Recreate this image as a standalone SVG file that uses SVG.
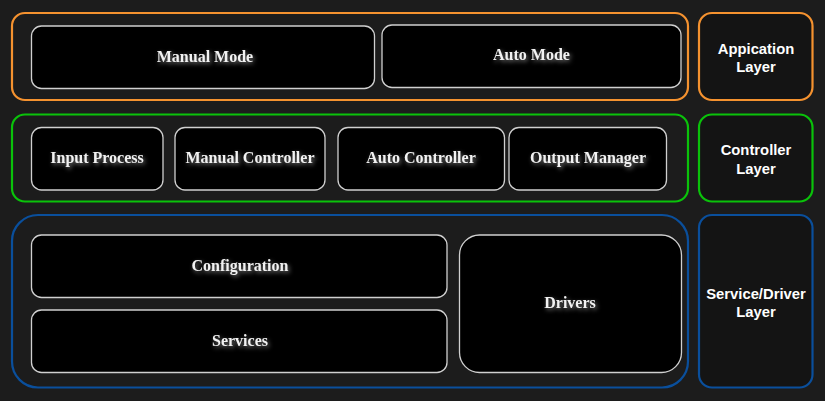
<svg xmlns="http://www.w3.org/2000/svg" width="825" height="401" viewBox="0 0 825 401">
<defs>
<filter id="glow" x="-20%" y="-50%" width="140%" height="200%">
<feDropShadow dx="1.5" dy="2" stdDeviation="2" flood-color="#ffffff" flood-opacity="0.45"/>
</filter>
</defs>
<style>
.bg{fill:#1c1c1c}
.cont{fill:#1c1c1c;stroke-width:2.2}
.side{fill:#141414;stroke-width:2.2}
.org{stroke:#f5922f}
.grn{stroke:#0ac20a}
.blu{stroke:#0a4f9c}
.node{fill:#000000;stroke:#d0d0d0;stroke-width:1.3}
.nt{font-family:"Liberation Serif","Times New Roman",serif;font-weight:bold;font-size:16px;fill:#f2f2f2;text-anchor:middle;filter:url(#glow)}
.lt{font-family:"Liberation Sans",Arial,sans-serif;font-weight:bold;font-size:14.8px;fill:#ffffff;text-anchor:middle}
</style>
<rect class="bg" x="0" y="0" width="825" height="401"/>
<g id="connectors"></g>
<g id="application-container"><rect class="cont org" x="12" y="13" width="676" height="87" rx="13"/></g>
<g id="controller-container"><rect class="cont grn" x="12" y="114.5" width="676" height="87" rx="13"/></g>
<g id="service-container"><rect class="cont blu" x="12" y="215" width="676" height="172.5" rx="26"/></g>
<g id="manual-mode"><rect class="node" x="31.5" y="26" width="343" height="62.5" rx="10"/><text class="nt" x="205" y="62">Manual Mode</text></g>
<g id="auto-mode"><rect class="node" x="382" y="25" width="299" height="62.5" rx="10"/><text class="nt" x="531.5" y="60">Auto Mode</text></g>
<g id="input-process"><rect class="node" x="31.5" y="127.5" width="131.5" height="62.5" rx="10"/><text class="nt" x="97" y="163">Input Process</text></g>
<g id="manual-controller"><rect class="node" x="175" y="127.5" width="150" height="62.5" rx="10"/><text class="nt" x="250" y="163">Manual Controller</text></g>
<g id="auto-controller"><rect class="node" x="338" y="127.5" width="166.5" height="62.5" rx="10"/><text class="nt" x="421" y="163">Auto Controller</text></g>
<g id="output-manager"><rect class="node" x="509" y="127.5" width="157.5" height="62.5" rx="10"/><text class="nt" x="588" y="163">Output Manager</text></g>
<g id="configuration"><rect class="node" x="31.5" y="235" width="415.5" height="62.5" rx="10"/><text class="nt" x="240" y="270.5">Configuration</text></g>
<g id="services"><rect class="node" x="31.5" y="310" width="415.5" height="62.5" rx="10"/><text class="nt" x="240" y="345.5">Services</text></g>
<g id="drivers"><rect class="node" x="459.5" y="235" width="222" height="137.5" rx="20"/><text class="nt" x="570" y="308">Drivers</text></g>
<g id="application-layer"><rect class="side org" x="699" y="13" width="113.5" height="87" rx="13"/><text class="lt" x="756" y="53.5">Appication</text><text class="lt" x="756" y="71.5">Layer</text></g>
<g id="controller-layer"><rect class="side grn" x="699" y="114.5" width="113.5" height="87" rx="13"/><text class="lt" x="756" y="155">Controller</text><text class="lt" x="756" y="173.5">Layer</text></g>
<g id="service-driver-layer"><rect class="side blu" x="699" y="215" width="113.5" height="172.5" rx="13"/><text class="lt" x="756" y="298.5">Service/Driver</text><text class="lt" x="756" y="316.5">Layer</text></g>
</svg>
